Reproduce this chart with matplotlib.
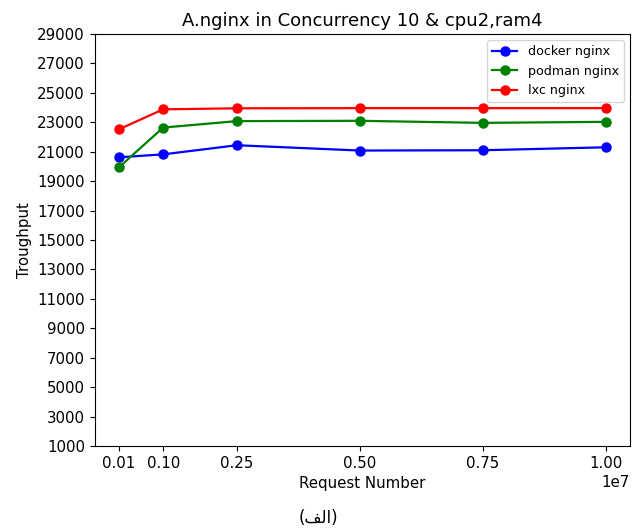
import matplotlib.pyplot as plt
import numpy as np

# Request numbers and throughput
requests = [100000, 1000000, 2500000, 5000000, 7500000, 10000000]
docker = [20620, 20820, 21440, 21080, 21100, 21300]
podman = [19940, 22640, 23080, 23100, 22960, 23030]
lxc = [22520, 23880, 23950, 23960, 23960, 23960]
xticks = [100000, 1000000, 2500000, 5000000, 7500000, 10000000]
yticks = list(range(1000, 29001, 2000))

plt.rcParams['font.size'] = 10.8

fig = plt.figure(figsize=(6.39, 5.31), dpi=100)
ax = fig.add_axes([0.148, 0.160, 0.838, 0.776])

ax.plot(requests, docker, 'o-', color='blue', label='docker nginx', lw=1.6, ms=6.5)
ax.plot(requests, podman, 'o-', color='green', label='podman nginx', lw=1.6, ms=6.5)
ax.plot(requests, lxc, 'o-', color='red', label='lxc nginx', lw=1.6, ms=6.5)

ax.set_xticks(xticks)
ax.set_yticks(yticks)
ax.set_ylim(1000, 29000)
ax.set_xlabel("Request Number")
ax.set_ylabel("Troughput")
ax.set_title("A.nginx in Concurrency 10 & cpu2,ram4", fontsize=13, pad=6)
ax.legend(fontsize=9.1, loc='upper right')

# caption "(الف)" in visual order with presentation forms
fig.text(0.498, 0.025, "(\ufed2\ufedf\ufe8d)", ha='center', va='center',
         fontsize=12, family=['DejaVu Sans'])

fig.savefig("out.png", dpi=100)
